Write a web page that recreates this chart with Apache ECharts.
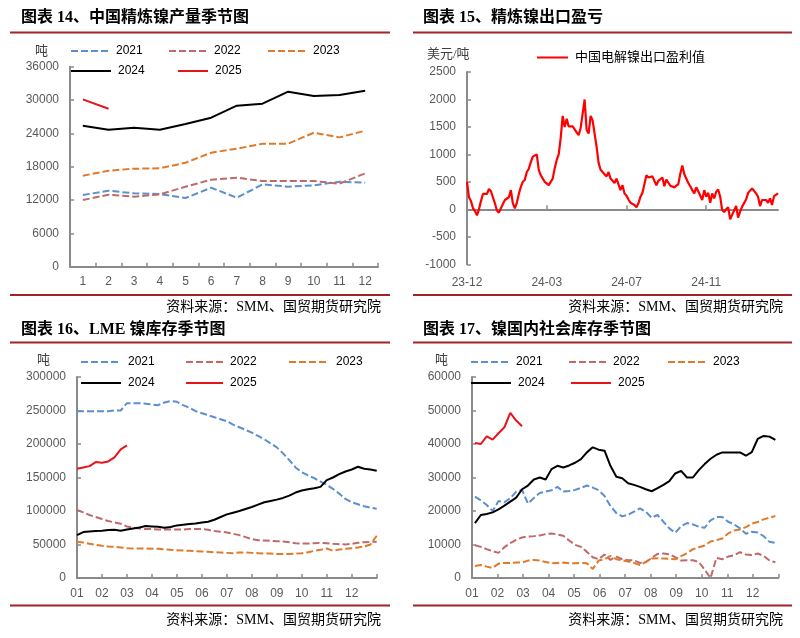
<!DOCTYPE html>
<html><head><meta charset="utf-8">
<script src="https://cdn.jsdelivr.net/npm/echarts@6/dist/echarts.min.js"></script>
<style>html,body{margin:0;padding:0;background:#fff}#c{width:800px;height:638px}</style>
</head><body><div id="c"></div>
<script>
// ---------- Panel 1: 中国精炼镍产量季节图 (吨) ----------
const p1Months = ['1','2','3','4','5','6','7','8','9','10','11','12'];
const p1_2021 = [12900,13680,13200,13080,12360,14220,12420,14820,14400,14640,15300,15120];
const p1_2022 = [12000,12960,12600,13020,14400,15660,16020,15420,15420,15420,14940,16800];
const p1_2023 = [16380,17280,17640,17700,18720,20520,21240,22140,22140,24120,23280,24480];
const p1_2024 = [25380,24660,25020,24660,25680,26820,28980,29340,31500,30720,30900,31680];
const p1_2025 = [30120,28440];

// ---------- Panel 2: 精炼镍出口盈亏 (美元/吨), every 2nd trading day from 2023-12-01 ----------
const p2Start = '2023-12-01';
const p2Profit = [500,220,150,20,-30,-110,0,150,280,260,
280,370,330,320,110,-20,-60,20,40,170,
190,220,350,110,20,120,280,410,500,540,
680,740,860,960,930,1000,720,620,650,500,
520,440,420,560,750,900,1000,1300,1700,1500,
1650,1510,1510,1510,1510,1400,1350,1480,1480,2000,
1450,1380,1700,1620,1380,1140,850,720,680,640,
600,680,560,560,480,560,560,350,440,290,
250,180,120,100,80,40,110,230,300,280,
620,580,560,600,600,440,520,500,580,420,
540,530,430,410,400,380,460,650,800,640,
660,480,420,350,290,400,330,300,170,350,
230,300,120,290,200,320,360,230,-10,-50,
0,40,-180,-100,-20,60,-150,-40,50,20,
180,300,290,380,350,290,230,60,170,140,
170,120,200,80,240,260,290];

// ---------- Panel 3: LME 镍库存季节图 (吨), sampled every quarter month ----------
const lmeMonthLabels = ['01','02','03','04','05','06','07','08','09','10','11','12'];
const lme2021 = [249000,249000,249000,249000,249000,249000,250000,250000,261000,261000,261000,260000,259000,258000,262000,264000,263000,258000,254000,249000,246000,243000,240000,237000,234000,229000,225000,221000,217000,212000,207000,201000,195000,186000,176000,165000,158000,153000,149000,144000,139000,133000,126000,118000,113000,110000,107000,105000,103500];
const lme2022 = [101500,98000,94000,91000,88000,85000,83000,81000,77000,75000,74000,73000,73000,72500,72500,72500,72500,72500,73000,73000,73000,72000,70000,69000,68000,66000,64000,61000,58000,56500,56000,55500,55000,54500,53500,52000,51500,51500,52000,52500,52000,51000,50500,50000,51000,52500,53500,54000,54000];
const lme2023 = [54000,53000,51000,49500,48000,47000,46500,45500,44500,44000,44000,44000,43500,43500,43000,42000,41500,41000,40500,40000,39500,39000,38500,38000,37500,37000,38000,38000,37500,37000,36500,36500,36000,36000,36000,36500,37000,38500,40500,42000,44000,40500,42500,43500,44500,45500,47000,50000,63000];
const lme2024 = [64000,68500,69500,70000,70500,71500,72000,70500,72500,74000,75500,77500,77000,76500,75000,76000,78500,79500,80500,81500,83000,84000,87000,91000,95000,97500,100000,103000,106000,109500,113000,115000,117000,119500,123000,127500,130500,132500,134000,136000,146000,150000,155000,159000,162000,166000,163000,162000,160000];
const lme2025 = [163000,165000,167000,173000,172000,174000,180000,192000,198000];

// ---------- Panel 4: 镍国内社会库存季节图 (吨), weekly ----------
const soc2021 = [24300,23200,21800,20000,23000,22600,23800,25800,26300,22200,23900,25400,25800,26200,27200,25800,26000,26300,26900,27600,27000,26200,24500,21500,19400,18400,18900,19800,20800,19800,18000,18800,16800,14800,13500,15500,16400,16000,15300,15000,17200,18200,18200,16800,16000,14800,13200,13800,13600,12500,10800,10500];
const soc2022 = [9800,9300,8600,8000,7500,9200,10400,11400,12100,12400,12500,12700,13100,13300,13000,12600,11200,9900,9300,7800,6200,5600,7000,5400,6400,5600,5300,5300,4500,4700,6000,7200,7300,7100,6200,5200,5300,5300,4800,2500,0,6000,5600,6400,6800,7700,7000,6900,7300,6600,5200,4700];
const soc2023 = [3600,3900,3400,3000,4300,4500,4500,4600,4600,5200,5400,5200,4800,4400,4500,4600,4400,4400,4500,4400,2700,5200,5600,6600,5600,5300,4900,4500,3900,4800,5800,5900,5800,5700,5600,6500,7400,8600,9200,9700,10900,11300,11800,13300,14200,14500,15200,16200,16700,17500,18000,18500];
const soc2024 = [16400,18800,19100,19600,20500,21600,22800,24000,26500,27600,29400,30000,29400,32500,33500,33000,33600,34400,35500,37500,39000,38300,38000,33500,30200,29800,28300,27800,27200,26500,25900,26800,27800,28900,31200,32000,30000,30000,32200,34000,35600,36800,37500,37500,37500,37500,36500,37600,41500,42400,42200,41200];
const soc2025 = [40300,40000,42300,41300,43200,45000,49300,47000,45300];

// ---------- chart ----------
const FONT = '"Liberation Sans", Arial, sans-serif';
const CJK = '"Liberation Serif", "Noto Sans CJK SC", serif';
const GREY = '#595959';
const AXIS = '#8a8a8a';
const DARKRED = '#A3232B';
const C = {'2021':'#5B8FD0','2022':'#C0696A','2023':'#E07A2A','2024':'#000000','2025':'#E8141A'};
const DASH = [7,3];

const p2Cats = (function(){
  const out=[]; const d=new Date(p2Start+'T00:00:00Z');
  for(let i=0;i<p2Profit.length;i++){
    const yy=String(d.getUTCFullYear()).slice(2), mm=String(d.getUTCMonth()+1).padStart(2,'0');
    out.push(yy+'-'+mm);
    let n=0; while(n<2){ d.setUTCDate(d.getUTCDate()+1); const w=d.getUTCDay(); if(w!==0&&w!==6) n++; }
  }
  return out;
})();

function yAx(g,min,max,interval){
  return {type:'value',gridIndex:g,min,max,interval,
    axisLine:{show:true,onZero:false,lineStyle:{color:AXIS,width:2}},
    axisTick:{show:true,inside:true,length:4,lineStyle:{color:AXIS,width:1.5}},
    axisLabel:{color:GREY,fontSize:12,fontFamily:FONT,margin:11,formatter:v=>String(v)},
    splitLine:{show:false}};
}
function monthAx(g){
  return {type:'value',gridIndex:g,min:0,max:12,interval:1,
    axisLine:{show:true,onZero:false,lineStyle:{color:AXIS,width:2}},
    axisTick:{show:true,inside:true,length:4,lineStyle:{color:AXIS,width:1.5}},
    axisLabel:{color:GREY,fontSize:12,fontFamily:FONT,margin:10,
      formatter:v=> v<12 ? lmeMonthLabels[v] : ''},
    splitLine:{show:false}};
}
function ln(name,x,y,data,dashed){
  return {name,type:'line',xAxisIndex:x,yAxisIndex:y,data,symbol:'none',showSymbol:false,
    animation:false,silent:true,
    lineStyle:{color:C[name],width:2,type:dashed?DASH:'solid'},itemStyle:{color:C[name]}};
}
function lg(name,left,top,w){
  return {data:[name],left,top,itemWidth:w,itemHeight:12,padding:0,selectedMode:false,
    itemStyle:{opacity:0},
    textStyle:{color:'#000',fontSize:12,fontFamily:FONT,padding:[0,0,0,2]}};
}
const q = arr => arr.map((v,i)=>[i*0.25, v]);
const wk = arr => arr.map((v,i)=>[(i+0.5)*12/52, v]);

function txt(x,y,s,opt){
  return {type:'text',x,y,style:Object.assign({text:s,fill:'#000',font:'13px '+CJK,textVerticalAlign:'middle'},opt||{})};
}
function hline(x1,x2,y){return {type:'line',shape:{x1,y1:y,x2,y2:y},style:{stroke:DARKRED,lineWidth:2}};}

const titleFont = 'bold 16px '+CJK;
const srcFont = '14px '+CJK;
const graphic = [
  txt(21,18,'图表 14、中国精炼镍产量季节图',{font:titleFont}),
  txt(423,18,'图表 15、精炼镍出口盈亏',{font:titleFont}),
  txt(21,330,'图表 16、LME 镍库存季节图',{font:titleFont}),
  txt(423,330,'图表 17、镍国内社会库存季节图',{font:titleFont}),
  hline(10,390,32.5), hline(413,792,32.5), hline(10,390,295), hline(413,792,295),
  hline(10,390,342.5), hline(413,792,342.5), hline(10,390,605.5), hline(413,792,605.5),
  txt(381,307,'资料来源：SMM、国贸期货研究院',{font:srcFont,textAlign:'right'}),
  txt(783,307,'资料来源：SMM、国贸期货研究院',{font:srcFont,textAlign:'right'}),
  txt(381,620,'资料来源：SMM、国贸期货研究院',{font:srcFont,textAlign:'right'}),
  txt(783,620,'资料来源：SMM、国贸期货研究院',{font:srcFont,textAlign:'right'}),
  txt(35,52,'吨',{font:'13px '+CJK,fill:'#404040'}),
  txt(427,55,'美元/吨',{font:'13px '+CJK,fill:'#404040'}),
  txt(37,361,'吨',{font:'13px '+CJK,fill:'#404040'}),
  txt(435,361,'吨',{font:'13px '+CJK,fill:'#404040'})
];

const option = {
  backgroundColor:'#fff',
  animation:false,
  graphic,
  grid:[
    {left:70,top:66.7,width:308,height:200},
    {left:467,top:72,width:311,height:192.3},
    {left:77,top:377,width:299.7,height:201},
    {left:472,top:377,width:306.3,height:201}
  ],
  xAxis:[
    {type:'category',gridIndex:0,data:p1Months,boundaryGap:true,
      axisLine:{lineStyle:{color:AXIS,width:2}},
      axisTick:{show:true,inside:true,length:4,lineStyle:{color:AXIS,width:1.5}},
      axisLabel:{color:GREY,fontSize:12,fontFamily:FONT,margin:9}},
    {type:'category',gridIndex:1,data:p2Cats,boundaryGap:false,position:'bottom',
      axisLine:{onZero:true,lineStyle:{color:AXIS,width:2}},
      axisTick:{show:true,inside:true,length:4,interval:39,lineStyle:{color:AXIS,width:1.5}},
      axisLabel:{show:false}},
    {type:'category',gridIndex:1,data:p2Cats,boundaryGap:false,position:'bottom',
      axisLine:{show:false,onZero:false},axisTick:{show:false},
      axisLabel:{color:GREY,fontSize:12,fontFamily:FONT,margin:12,interval:39}},
    monthAx(2),
    monthAx(3)
  ],
  yAxis:[
    yAx(0,0,36000,6000),
    yAx(1,-1000,2500,500),
    yAx(2,0,300000,50000),
    yAx(3,0,60000,10000)
  ],
  legend:[
    lg('2021',70,45,38), lg('2022',168,45,38), lg('2023',267,45,38),
    lg('2024',70,65,40), lg('2025',177,65,30),
    {data:['中国电解镍出口盈利值'],left:536,top:51,itemWidth:31,itemHeight:12,padding:0,selectedMode:false,
      itemStyle:{opacity:0},
      textStyle:{color:'#000',fontSize:13,fontFamily:CJK,padding:[0,0,0,2]}},
    lg('2021',80,356,40), lg('2022',185,356,37), lg('2023',288,356,40),
    lg('2024',80,377,40), lg('2025',185,377,37),
    lg('2021',470,356,38), lg('2022',568,356,37), lg('2023',667,356,38),
    lg('2024',470,377,40), lg('2025',570,377,40)
  ],
  series:[
    ln('2021',0,0,p1_2021,true), ln('2022',0,0,p1_2022,true), ln('2023',0,0,p1_2023,true),
    ln('2024',0,0,p1_2024,false), ln('2025',0,0,p1_2025,false),
    {name:'中国电解镍出口盈利值',type:'line',xAxisIndex:1,yAxisIndex:1,data:p2Profit,symbol:'none',showSymbol:false,
      lineStyle:{color:'#FF0000',width:2.2},itemStyle:{color:'#FF0000'}},
    ln('2021',3,2,q(lme2021),true), ln('2022',3,2,q(lme2022),true), ln('2023',3,2,q(lme2023),true),
    ln('2024',3,2,q(lme2024),false), ln('2025',3,2,q(lme2025),false),
    ln('2021',4,3,wk(soc2021),true), ln('2022',4,3,wk(soc2022),true), ln('2023',4,3,wk(soc2023),true),
    ln('2024',4,3,wk(soc2024),false), ln('2025',4,3,wk(soc2025),false)
  ]
};
const chart = echarts.init(document.getElementById('c'));
chart.setOption(option);
</script></body></html>
